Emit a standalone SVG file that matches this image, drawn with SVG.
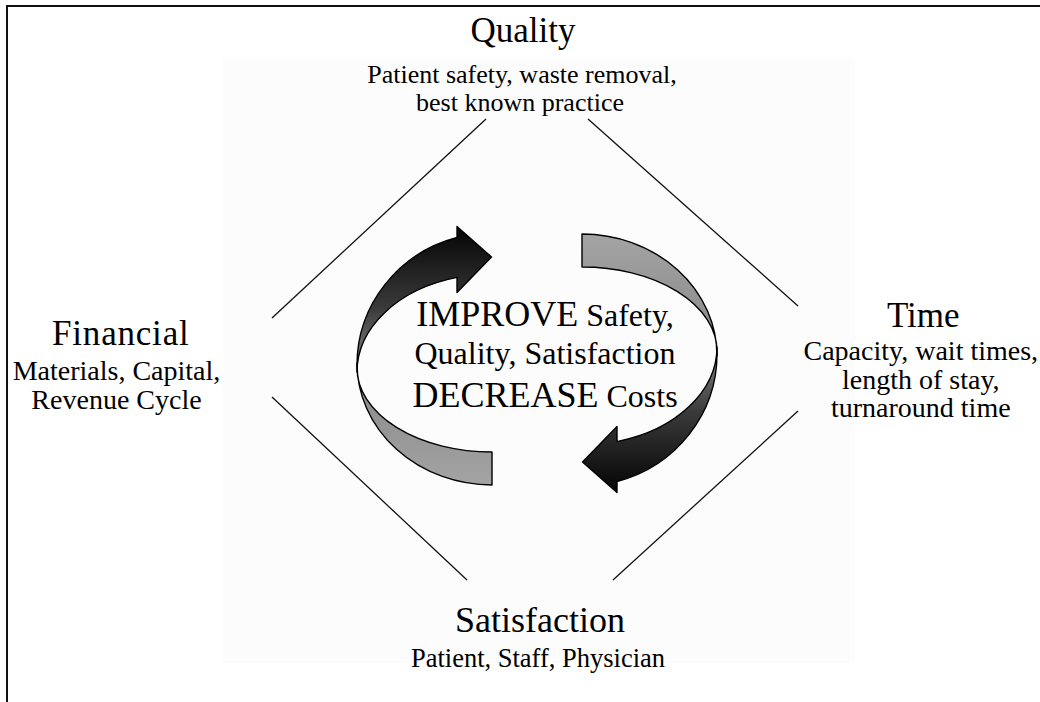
<svg xmlns="http://www.w3.org/2000/svg" xmlns:xlink="http://www.w3.org/1999/xlink" width="1040" height="702" viewBox="0 0 1040 702">
  <style>
    .t { font-family: "Liberation Serif", "Times New Roman", serif; fill: #000; text-anchor: middle; }
    .h { font-size: 35px; }
    .s { font-size: 28px; }
    .s2 { font-size: 26px; }
    .big { font-size: 36px; }
    .mid { font-size: 32px; }
    .edge { stroke: #111; stroke-width: 1.3; fill: none; stroke-linecap: butt; }
    .band { stroke: #000; stroke-width: 1.4; stroke-linejoin: round; }
  </style>
  <defs>
    <!-- dark front band: black at the head fading to grey at the twist -->
    <linearGradient id="frontFill" gradientUnits="userSpaceOnUse" x1="0" y1="228" x2="0" y2="372">
      <stop offset="0" stop-color="#050505"/>
      <stop offset="0.55" stop-color="#3a3a3a"/>
      <stop offset="1" stop-color="#8a8a8a"/>
    </linearGradient>
    <!-- lighter back band towards the tail -->
    <linearGradient id="backFill" gradientUnits="userSpaceOnUse" x1="0" y1="362" x2="0" y2="486">
      <stop offset="0" stop-color="#858585"/>
      <stop offset="1" stop-color="#a4a4a4"/>
    </linearGradient>
    <!-- twisted curved arrow: tail bottom-right, head top pointing right -->
    <g id="curvedArrow">
      <path class="band" fill="url(#backFill)" d="M492,452 A135,84 0 0 1 357,368 L357,363 A135,122 0 0 0 492,485 Z"/>
      <path class="band" fill="url(#frontFill)" d="M457,237.5 A135,132 0 0 0 357,365 L357,372 A135,98 0 0 1 457,277.4 L457,292.5 L491.5,257 L457,226.5 Z"/>
    </g>
  </defs>

  <rect width="1040" height="702" fill="#fff"/>
  <!-- frame: only the top and left sides fall inside the page -->
  <path d="M7,702 V6 H1040" fill="none" stroke="#111" stroke-width="2"/>
  <!-- faint panel behind the diamond -->
  <rect x="223" y="58" width="632" height="605" fill="#fcfcfc"/>

  <!-- diamond edges between the four labels -->
  <g id="connectors">
    <line class="edge" x1="272" y1="318" x2="486" y2="119"/>
    <line class="edge" x1="588" y1="119" x2="798" y2="306"/>
    <line class="edge" x1="798" y1="411" x2="613" y2="580"/>
    <line class="edge" x1="467" y1="580" x2="272" y2="397"/>
  </g>

  <g id="cycle-arrows">
    <use id="arrow-left" xlink:href="#curvedArrow" href="#curvedArrow"/>
    <use id="arrow-right" xlink:href="#curvedArrow" href="#curvedArrow" transform="rotate(180 537 359.5)"/>
  </g>

  <g id="center-text">
    <text class="t" x="545" y="325.7"><tspan class="big">IMPROVE</tspan><tspan class="mid"> Safety,</tspan></text>
    <text class="t mid" x="545" y="364.3">Quality, Satisfaction</text>
    <text class="t" x="545" y="406.7"><tspan class="big">DECREASE</tspan><tspan class="mid"> Costs</tspan></text>
  </g>

  <g id="quality">
    <text class="t h" x="523" y="42">Quality</text>
    <text class="t s2" x="522" y="83">Patient safety, waste removal,</text>
    <text class="t s2" x="520" y="111">best known practice</text>
  </g>

  <g id="financial">
    <text class="t h" x="120.8" y="345" letter-spacing="0.8">Financial</text>
    <text class="t s" x="116.5" y="379.5">Materials, Capital,</text>
    <text class="t s" x="116.5" y="409">Revenue Cycle</text>
  </g>

  <g id="time">
    <text class="t h" x="923.3" y="327">Time</text>
    <text class="t s" x="920.8" y="360">Capacity, wait times,</text>
    <text class="t s" x="920.8" y="388.5">length of stay,</text>
    <text class="t s" x="920.8" y="417">turnaround time</text>
  </g>

  <g id="satisfaction">
    <text class="t big" x="540" y="632">Satisfaction</text>
    <text class="t" x="538" y="667" font-size="26.5">Patient, Staff, Physician</text>
  </g>
</svg>
